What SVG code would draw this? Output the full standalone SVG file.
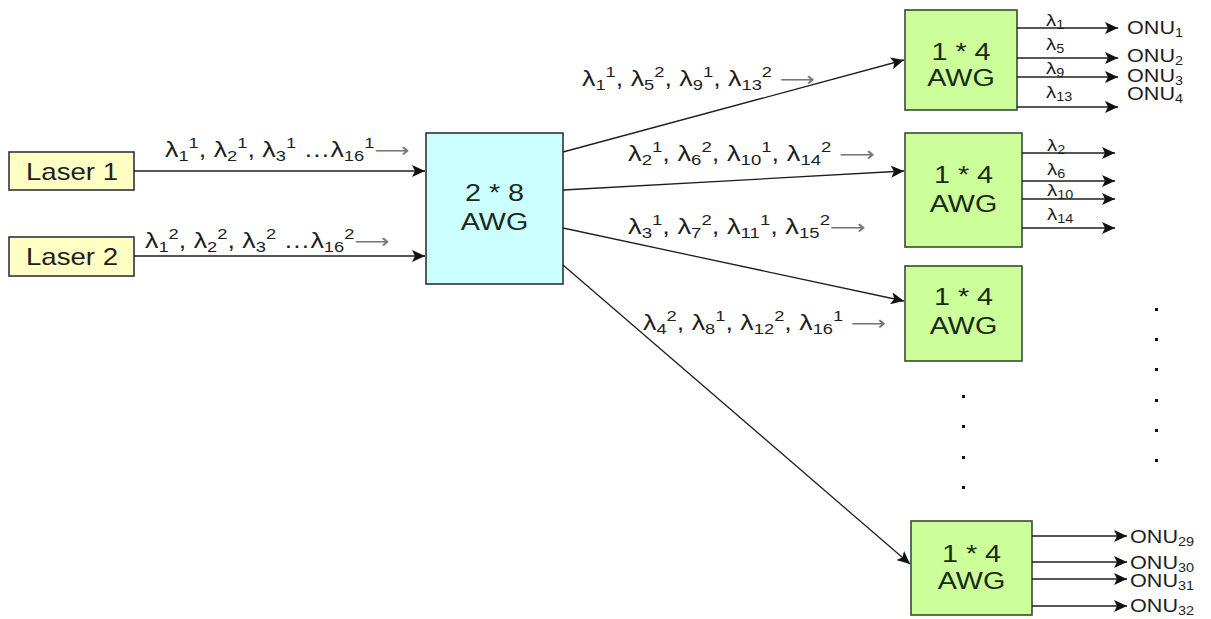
<svg xmlns="http://www.w3.org/2000/svg" width="1211" height="619" viewBox="0 0 1211 619">
<style>
.t{font-family:"Liberation Sans",Arial,sans-serif;fill:#1e1e1e}
.lab{font-size:22px}
.s{font-size:15px}
.ar{font-family:"DejaVu Sans",sans-serif;fill:#777;font-size:20px}
.bx{font-size:23px;text-anchor:middle;fill:#1a2a1a}
.ln{stroke:#1e1e1e;stroke-width:1.3;fill:none}
.laser{fill:#ffffc4;stroke:#333;stroke-width:1.6}
.awg8{fill:#ccffff;stroke:#333;stroke-width:1.6}
.awg4{fill:#ccff99;stroke:#3a4a30;stroke-width:1.6}
.onu{font-size:18px}
.os{font-size:12px}
.ol{font-size:17px}
.ols{font-size:12px}
</style>
<defs>
<marker id="ah" markerUnits="userSpaceOnUse" markerWidth="14" markerHeight="12" refX="13" refY="6" orient="auto">
<path d="M0,0 L13,6 L0,12 L3,6 Z" fill="#111"/>
</marker>
</defs>
<rect width="1211" height="619" fill="#fff"/>

<g id="laser1"><rect class="laser" x="9" y="152" width="125" height="38"/><text class="t" transform="translate(72,180) scale(1.2,1)" font-size="23" text-anchor="middle">Laser 1</text></g>
<g id="laser2"><rect class="laser" x="9" y="237" width="125" height="39"/><text class="t" transform="translate(72,265) scale(1.2,1)" font-size="23" text-anchor="middle">Laser 2</text></g>

<g id="awg28"><rect class="awg8" x="426" y="133" width="137" height="151"/>
<text class="t bx" transform="translate(494.5,201) scale(1.25,1)">2 * 8</text><text class="t bx" transform="translate(494.5,230) scale(1.25,1)">AWG</text></g>

<g id="awg1"><rect class="awg4" x="905" y="10" width="112" height="100"/>
<text class="t bx" transform="translate(961,60) scale(1.25,1)">1 * 4</text><text class="t bx" transform="translate(961,86) scale(1.25,1)">AWG</text></g>
<g id="awg2"><rect class="awg4" x="905" y="133" width="117" height="114"/>
<text class="t bx" transform="translate(963.5,183) scale(1.25,1)">1 * 4</text><text class="t bx" transform="translate(963.5,212) scale(1.25,1)">AWG</text></g>
<g id="awg3"><rect class="awg4" x="905" y="266" width="117" height="95"/>
<text class="t bx" transform="translate(963.5,305) scale(1.25,1)">1 * 4</text><text class="t bx" transform="translate(963.5,334) scale(1.25,1)">AWG</text></g>
<g id="awg4"><rect class="awg4" x="911" y="521" width="121" height="94"/>
<text class="t bx" transform="translate(971.5,562) scale(1.25,1)">1 * 4</text><text class="t bx" transform="translate(971.5,589) scale(1.25,1)">AWG</text></g>

<g id="connectors">
<line class="ln" x1="134" y1="171" x2="425" y2="171" marker-end="url(#ah)"/>
<line class="ln" x1="134" y1="256" x2="425" y2="256" marker-end="url(#ah)"/>
<line class="ln" x1="563" y1="152" x2="904" y2="60" marker-end="url(#ah)"/>
<line class="ln" x1="563" y1="190" x2="904" y2="171" marker-end="url(#ah)"/>
<line class="ln" x1="563" y1="228" x2="904" y2="301" marker-end="url(#ah)"/>
<line class="ln" x1="563" y1="265" x2="910" y2="564" marker-end="url(#ah)"/>
<line class="ln" x1="1017" y1="28" x2="1118" y2="28" marker-end="url(#ah)"/>
<line class="ln" x1="1017" y1="58" x2="1118" y2="58" marker-end="url(#ah)"/>
<line class="ln" x1="1017" y1="77" x2="1118" y2="77" marker-end="url(#ah)"/>
<line class="ln" x1="1017" y1="107" x2="1118" y2="107" marker-end="url(#ah)"/>
<line class="ln" x1="1022" y1="153" x2="1115" y2="153" marker-end="url(#ah)"/>
<line class="ln" x1="1022" y1="181" x2="1115" y2="181" marker-end="url(#ah)"/>
<line class="ln" x1="1022" y1="199" x2="1115" y2="199" marker-end="url(#ah)"/>
<line class="ln" x1="1022" y1="228" x2="1115" y2="228" marker-end="url(#ah)"/>
<line class="ln" x1="1032" y1="536" x2="1127" y2="536" marker-end="url(#ah)"/>
<line class="ln" x1="1032" y1="562" x2="1127" y2="562" marker-end="url(#ah)"/>
<line class="ln" x1="1032" y1="579" x2="1127" y2="579" marker-end="url(#ah)"/>
<line class="ln" x1="1032" y1="606" x2="1127" y2="606" marker-end="url(#ah)"/>
</g>

<g id="labels">
<text class="t lab" transform="translate(165,157) scale(1.22,1)">λ<tspan class="s" dy="4">1</tspan><tspan class="s" dy="-13">1</tspan><tspan dy="9">, λ</tspan><tspan class="s" dy="4">2</tspan><tspan class="s" dy="-13">1</tspan><tspan dy="9">, λ</tspan><tspan class="s" dy="4">3</tspan><tspan class="s" dy="-13">1</tspan><tspan dy="9"> …λ</tspan><tspan class="s" dy="4">16</tspan><tspan class="s" dy="-13">1</tspan><tspan class="ar" dy="9">⟶</tspan></text>
<text class="t lab" transform="translate(145,248) scale(1.22,1)">λ<tspan class="s" dy="4">1</tspan><tspan class="s" dy="-13">2</tspan><tspan dy="9">, λ</tspan><tspan class="s" dy="4">2</tspan><tspan class="s" dy="-13">2</tspan><tspan dy="9">, λ</tspan><tspan class="s" dy="4">3</tspan><tspan class="s" dy="-13">2</tspan><tspan dy="9"> …λ</tspan><tspan class="s" dy="4">16</tspan><tspan class="s" dy="-13">2</tspan><tspan class="ar" dy="9">⟶</tspan></text>
<text class="t lab" transform="translate(582,86) scale(1.22,1)">λ<tspan class="s" dy="4">1</tspan><tspan class="s" dy="-13">1</tspan><tspan dy="9">, λ</tspan><tspan class="s" dy="4">5</tspan><tspan class="s" dy="-13">2</tspan><tspan dy="9">, λ</tspan><tspan class="s" dy="4">9</tspan><tspan class="s" dy="-13">1</tspan><tspan dy="9">, λ</tspan><tspan class="s" dy="4">13</tspan><tspan class="s" dy="-13">2</tspan><tspan class="ar" dy="9"> ⟶</tspan></text>
<text class="t lab" transform="translate(628,161) scale(1.24,1)">λ<tspan class="s" dy="4">2</tspan><tspan class="s" dy="-13">1</tspan><tspan dy="9">, λ</tspan><tspan class="s" dy="4">6</tspan><tspan class="s" dy="-13">2</tspan><tspan dy="9">, λ</tspan><tspan class="s" dy="4">10</tspan><tspan class="s" dy="-13">1</tspan><tspan dy="9">, λ</tspan><tspan class="s" dy="4">14</tspan><tspan class="s" dy="-13">2</tspan><tspan class="ar" dy="9"> ⟶</tspan></text>
<text class="t lab" transform="translate(628,234) scale(1.24,1)">λ<tspan class="s" dy="4">3</tspan><tspan class="s" dy="-13">1</tspan><tspan dy="9">, λ</tspan><tspan class="s" dy="4">7</tspan><tspan class="s" dy="-13">2</tspan><tspan dy="9">, λ</tspan><tspan class="s" dy="4">11</tspan><tspan class="s" dy="-13">1</tspan><tspan dy="9">, λ</tspan><tspan class="s" dy="4">15</tspan><tspan class="s" dy="-13">2</tspan><tspan class="ar" dy="9">⟶</tspan></text>
<text class="t lab" transform="translate(643,330) scale(1.22,1)">λ<tspan class="s" dy="4">4</tspan><tspan class="s" dy="-13">2</tspan><tspan dy="9">, λ</tspan><tspan class="s" dy="4">8</tspan><tspan class="s" dy="-13">1</tspan><tspan dy="9">, λ</tspan><tspan class="s" dy="4">12</tspan><tspan class="s" dy="-13">2</tspan><tspan dy="9">, λ</tspan><tspan class="s" dy="4">16</tspan><tspan class="s" dy="-13">1</tspan><tspan class="ar" dy="9"> ⟶</tspan></text>

<text class="t ol" transform="translate(1046,26) scale(1.2,1)">λ<tspan class="ols" dy="3">1</tspan></text>
<text class="t ol" transform="translate(1046,50) scale(1.2,1)">λ<tspan class="ols" dy="3">5</tspan></text>
<text class="t ol" transform="translate(1046,74) scale(1.2,1)">λ<tspan class="ols" dy="3">9</tspan></text>
<text class="t ol" transform="translate(1046,98) scale(1.2,1)">λ<tspan class="ols" dy="3">13</tspan></text>
<text class="t ol" transform="translate(1047,151) scale(1.2,1)">λ<tspan class="ols" dy="3">2</tspan></text>
<text class="t ol" transform="translate(1047,175) scale(1.2,1)">λ<tspan class="ols" dy="3">6</tspan></text>
<text class="t ol" transform="translate(1047,196) scale(1.2,1)">λ<tspan class="ols" dy="3">10</tspan></text>
<text class="t ol" transform="translate(1047,220) scale(1.2,1)">λ<tspan class="ols" dy="3">14</tspan></text>

<text class="t onu" transform="translate(1127,34) scale(1.2,1)">ONU<tspan class="os" dy="3">1</tspan></text>
<text class="t onu" transform="translate(1127,62) scale(1.2,1)">ONU<tspan class="os" dy="3">2</tspan></text>
<text class="t onu" transform="translate(1127,82) scale(1.2,1)">ONU<tspan class="os" dy="3">3</tspan></text>
<text class="t onu" transform="translate(1127,100) scale(1.2,1)">ONU<tspan class="os" dy="3">4</tspan></text>
<text class="t onu" transform="translate(1130,543) scale(1.2,1)">ONU<tspan class="os" dy="3">29</tspan></text>
<text class="t onu" transform="translate(1130,569) scale(1.2,1)">ONU<tspan class="os" dy="3">30</tspan></text>
<text class="t onu" transform="translate(1130,587) scale(1.2,1)">ONU<tspan class="os" dy="3">31</tspan></text>
<text class="t onu" transform="translate(1130,612) scale(1.2,1)">ONU<tspan class="os" dy="3">32</tspan></text>
</g>

<g id="dots" fill="#111">
<rect x="962" y="395" width="3" height="3"/><rect x="962" y="425" width="3" height="3"/><rect x="962" y="456" width="3" height="3"/><rect x="962" y="486" width="3" height="3"/>
<rect x="1155" y="308" width="3" height="3"/><rect x="1155" y="338" width="3" height="3"/><rect x="1155" y="368" width="3" height="3"/><rect x="1155" y="399" width="3" height="3"/><rect x="1155" y="429" width="3" height="3"/><rect x="1155" y="459" width="3" height="3"/>
</g>
</svg>
